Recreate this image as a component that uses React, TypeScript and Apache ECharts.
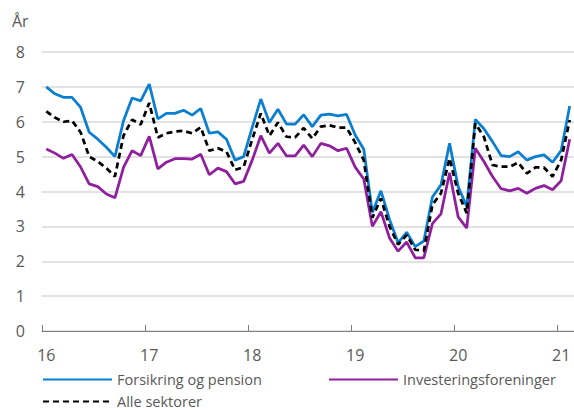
import React, { useEffect, useRef } from "react";
import * as echarts from "echarts";

const years = ["16", "17", "18", "19", "20", "21"];
const months = ["01", "02", "03", "04", "05", "06", "07", "08", "09", "10", "11", "12"];
const lastYearMonths = 2;

const forsikring = [
  7.0, 6.8, 6.7, 6.7, 6.41, 5.7, 5.5, 5.27, 5.0, 6.03, 6.68, 6.6,
  7.08, 6.08, 6.24, 6.24, 6.33, 6.19, 6.38, 5.67, 5.71, 5.5, 4.9, 5.0,
  5.84, 6.65, 5.98, 6.36, 5.93, 5.93, 6.2, 5.86, 6.19, 6.22, 6.17, 6.21,
  5.62, 5.21, 3.4, 4.02, 3.2, 2.53, 2.83, 2.42, 2.58, 3.84, 4.19, 5.38,
  4.14, 3.57, 6.07, 5.8, 5.43, 5.03, 5.0, 5.14, 4.9, 5.0, 5.05, 4.84,
  5.17, 6.45,
];

const investering = [
  5.22, 5.1, 4.95, 5.06, 4.7, 4.22, 4.14, 3.93, 3.82, 4.69, 5.17, 5.03,
  5.58, 4.65, 4.84, 4.94, 4.94, 4.93, 5.07, 4.48, 4.67, 4.57, 4.22, 4.29,
  4.9, 5.6, 5.1, 5.38, 5.02, 5.02, 5.33, 5.0, 5.38, 5.31, 5.17, 5.24,
  4.7, 4.36, 3.0, 3.42, 2.67, 2.29, 2.55, 2.1, 2.1, 3.08, 3.36, 4.54,
  3.27, 2.95, 5.24, 4.86, 4.43, 4.08, 4.02, 4.09, 3.95, 4.09, 4.17, 4.05,
  4.31, 5.5,
];

const alle = [
  6.3, 6.12, 6.0, 6.03, 5.7, 5.0, 4.86, 4.67, 4.43, 5.6, 6.06, 5.92,
  6.54, 5.55, 5.67, 5.72, 5.74, 5.67, 5.84, 5.17, 5.24, 5.14, 4.62, 4.7,
  5.5, 6.24, 5.6, 5.98, 5.57, 5.55, 5.82, 5.52, 5.86, 5.9, 5.83, 5.83,
  5.4, 4.9, 3.25, 3.8, 3.0, 2.48, 2.75, 2.33, 2.3, 3.62, 3.95, 4.95,
  3.95, 3.38, 5.95, 5.57, 4.76, 4.71, 4.71, 4.83, 4.52, 4.69, 4.69, 4.43,
  4.9, 6.05,
];

const yTicks = [0, 1, 2, 3, 4, 5, 6, 7, 8];
const seriesNames = ["Forsikring og pension", "Investeringsforeninger", "Alle sektorer"];

const categories: string[] = [];
years.forEach((y, i) => {
  const ms = i === years.length - 1 ? months.slice(0, lastYearMonths) : months;
  ms.forEach((m) => categories.push(y + "-" + m));
});

const FONT = "'Open Sans', sans-serif";
const TEXT = "#595959";

export default function App() {
  const ref = useRef<HTMLDivElement>(null);
  useEffect(() => {
    if (!ref.current) return;
    const chart = echarts.init(ref.current, null, { renderer: "svg" });
    const legendText = { color: TEXT, fontSize: 14.5, fontFamily: FONT, lineHeight: 15 };
    const legendBase = {
      padding: 0,
      itemWidth: 69,
      itemHeight: 14,
      itemStyle: { opacity: 0, borderWidth: 0 },
      textStyle: legendText,
    };
    chart.setOption({
      animation: false,
      textStyle: { fontFamily: FONT },
      grid: { left: 42, right: -5, top: 52, bottom: 79, containLabel: false },
      graphic: [
        {
          type: "text",
          left: 12,
          top: 13,
          style: { text: "År", fill: TEXT, fontSize: 16, fontFamily: FONT },
        },
      ],
      legend: [
        { ...legendBase, data: [seriesNames[0]], left: 42, top: 372 },
        { ...legendBase, data: [seriesNames[1]], left: 328, top: 372 },
        { ...legendBase, data: [seriesNames[2]], left: 42, top: 394 },
      ],
      xAxis: {
        type: "category",
        data: categories,
        boundaryGap: true,
        axisLine: { show: true, lineStyle: { color: "#808080", width: 1 } },
        axisTick: { show: true, inside: true, interval: 11, length: 6, lineStyle: { color: "#808080" } },
        axisLabel: {
          interval: 11,
          margin: 16,
          color: TEXT,
          fontSize: 16,
          fontFamily: FONT,
          formatter: (v: string) => v.split("-")[0],
        },
        splitLine: { show: false },
      },
      yAxis: {
        type: "value",
        min: yTicks[0],
        max: yTicks[yTicks.length - 1],
        interval: 1,
        axisLine: { show: false },
        axisTick: { show: false },
        axisLabel: { color: TEXT, fontSize: 16, fontFamily: FONT, margin: 17 },
        splitLine: { lineStyle: { color: "#d9d9d9", width: 1.5 } },
      },
      series: [
        {
          name: seriesNames[0],
          type: "line",
          data: forsikring,
          symbol: "none",
          color: "#0a7fd1",
          lineStyle: { color: "#0a7fd1", width: 2.75 },
          z: 3,
        },
        {
          name: seriesNames[1],
          type: "line",
          data: investering,
          symbol: "none",
          color: "#901f9d",
          lineStyle: { color: "#901f9d", width: 2.75 },
          z: 2,
        },
        {
          name: seriesNames[2],
          type: "line",
          data: alle,
          symbol: "none",
          color: "#000000",
          lineStyle: { color: "#000000", width: 2.75, type: [6, 4] },
          z: 4,
        },
      ],
    });
    return () => chart.dispose();
  }, []);
  return <div ref={ref} style={{ width: 574, height: 410, position: "absolute", left: 0, top: 0 }} />;
}
